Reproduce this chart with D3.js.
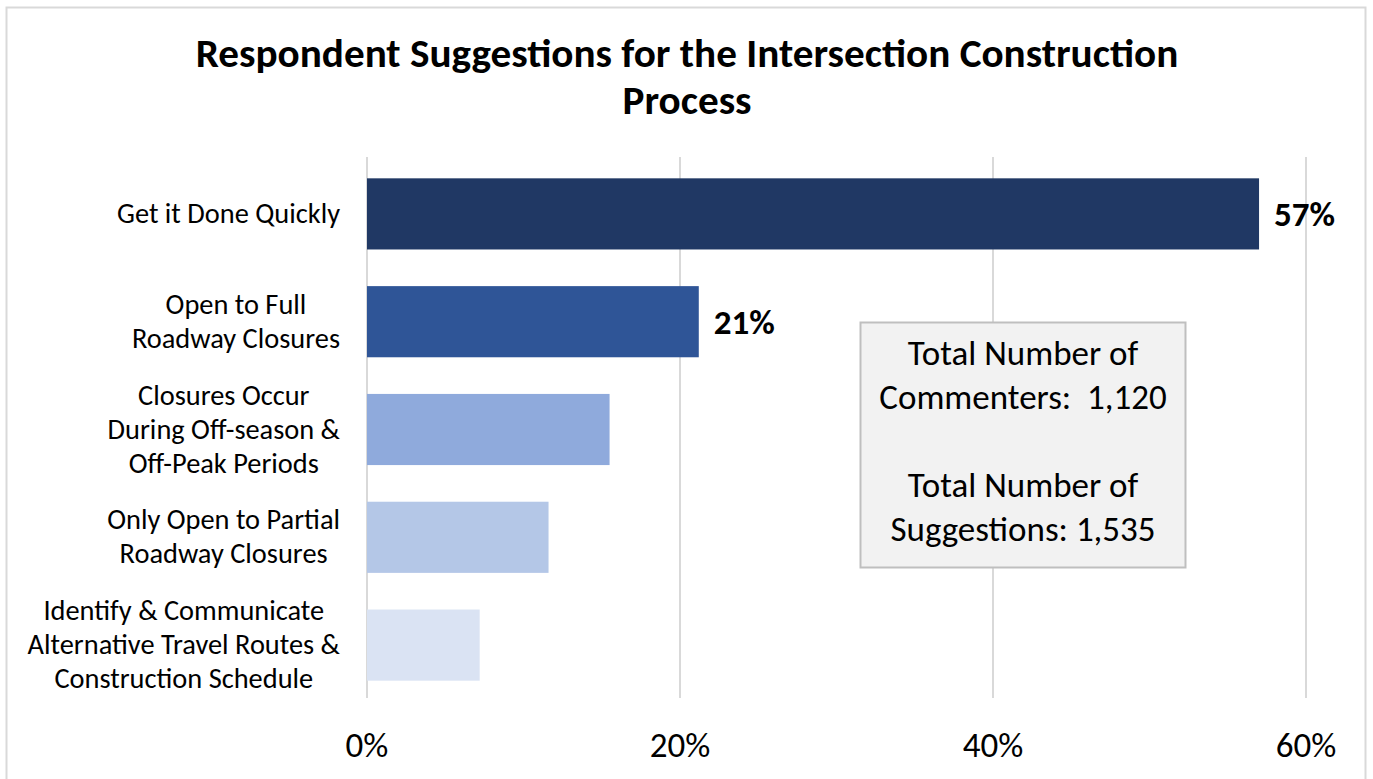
<!DOCTYPE html>
<html>
<head>
<meta charset="utf-8">
<script src="https://cdn.jsdelivr.net/npm/d3@7"></script>
<style>
  html, body { margin: 0; padding: 0; background: #fff; }
  svg { display: block; }
  text { font-family: Carlito, Calibri, Lato, sans-serif; fill: #000; }
</style>
</head>
<body>
<svg id="chart" width="1373" height="779"></svg>
<script>
const titleLines = ["Respondent Suggestions for the Intersection Construction", "Process"];
const categories = [
  ["Get it Done Quickly"],
  ["Open to Full", "Roadway Closures"],
  ["Closures Occur", "During Off-season &", "Off-Peak Periods"],
  ["Only Open to Partial", "Roadway Closures"],
  ["Identify & Communicate", "Alternative Travel Routes &", "Construction Schedule"]
];
const values = [57, 21.2, 15.5, 11.6, 7.2];
const dataLabels = ["57%", "21%", null, null, null];
const colors = ["#203864", "#2F5597", "#8FAADC", "#B4C7E7", "#DAE3F3"];
const tickValues = [0, 20, 40, 60];
const tickLabels = ["0%", "20%", "40%", "60%"];
const boxLines = ["Total Number of", "Commenters:  1,120", "", "Total Number of", "Suggestions: 1,535"];

const svg = d3.select("#chart");

// outer border
svg.append("rect").attr("x", 6.5).attr("y", 7.5).attr("width", 1359).attr("height", 790)
  .attr("fill", "#fff").attr("stroke", "#d9d9d9").attr("stroke-width", 2);

// title
svg.append("g").selectAll("text").data(titleLines).join("text")
  .attr("x", 687).attr("y", (d, i) => 67 + i * 47)
  .attr("text-anchor", "middle")
  .attr("font-size", 41.2).attr("font-weight", "bold")
  .text(d => d);

const x = d3.scaleLinear().domain([0, 60]).range([367, 1306]);
const y = d3.scaleBand().domain(d3.range(categories.length)).range([160, 699]).paddingInner(0.34).paddingOuter(0.17);

// gridlines
svg.append("g").selectAll("line").data(tickValues).join("line")
  .attr("x1", d => x(d)).attr("x2", d => x(d))
  .attr("y1", 157).attr("y2", 698)
  .attr("stroke", "#d9d9d9").attr("stroke-width", 2);

// bars
svg.append("g").selectAll("rect").data(values).join("rect")
  .attr("x", x(0)).attr("y", (d, i) => y(i))
  .attr("width", d => x(d) - x(0)).attr("height", y.bandwidth())
  .attr("fill", (d, i) => colors[i]);

// data labels
svg.append("g").selectAll("text").data(values).join("text")
  .filter((d, i) => dataLabels[i] !== null)
  .attr("x", d => x(d) + 15)
  .attr("y", (d, i) => y(i) + y.bandwidth() / 2 + 12)
  .attr("font-size", 35).attr("font-weight", "bold")
  .text((d, i) => dataLabels[i]);

// category labels
const lineH = 34;
const labG = svg.append("g");
categories.forEach((lines, i) => {
  const g = labG.append("g");
  const cy = y(i) + y.bandwidth() / 2;
  const n = lines.length;
  const ts = lines.map((l, j) => g.append("text")
    .attr("font-size", 28.4)
    .attr("text-anchor", "middle")
    .attr("y", cy + (j - (n - 1) / 2) * lineH + 9)
    .text(l));
  const maxW = d3.max(ts, t => t.node().getComputedTextLength());
  ts.forEach(t => t.attr("x", 340 - maxW / 2));
});

// x axis labels
svg.append("g").selectAll("text").data(tickValues).join("text")
  .attr("x", d => x(d)).attr("y", 757)
  .attr("text-anchor", "middle").attr("font-size", 35)
  .text((d, i) => tickLabels[i]);

// info box
svg.append("rect").attr("x", 860.5).attr("y", 322.5).attr("width", 325).attr("height", 245)
  .attr("fill", "#f2f2f2").attr("stroke", "#bfbfbf").attr("stroke-width", 2);
svg.append("g").selectAll("text").data(boxLines).join("text")
  .attr("x", 1023).attr("y", (d, i) => 365 + i * 44)
  .attr("text-anchor", "middle").attr("font-size", 35)
  .attr("xml:space", "preserve")
  .text(d => d);
</script>
</body>
</html>
